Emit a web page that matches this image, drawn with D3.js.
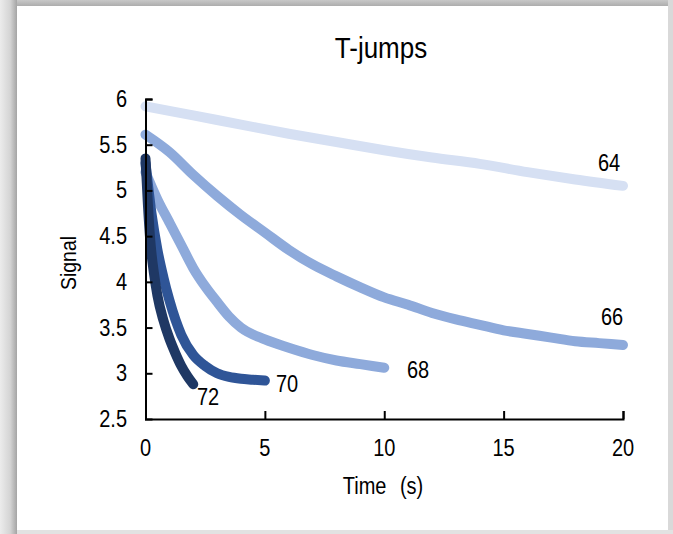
<!DOCTYPE html>
<html><head><meta charset="utf-8">
<script src="https://cdn.jsdelivr.net/npm/d3@7"></script>
<style>
html,body{margin:0;padding:0;background:#fff;}
svg{display:block;font-family:"Liberation Sans",Arial,sans-serif;}
</style></head>
<body><svg id="c" width="673" height="534"></svg>
<script>
const title = "T-jumps";
const xLabel = "Time (s)";
const yLabel = "Signal";
const xTicks = [0, 5, 10, 15, 20];
const yTicks = [2.5, 3, 3.5, 4, 4.5, 5, 5.5, 6];
const seriesNames = ["64", "66", "68", "70", "72"];
const seriesColors = ["#d6e0f3", "#8eaadb", "#8eaadb", "#2f5597", "#1f3864"];
const t64 = [0, 2, 4, 6, 8, 10, 12, 14, 16, 18, 20];
const v64 = [5.92, 5.82, 5.72, 5.62, 5.53, 5.44, 5.36, 5.29, 5.2, 5.12, 5.05];
const t66 = [0, 1, 2, 3, 4, 5, 6, 7, 8, 9, 10, 11, 12, 13, 14, 15, 16, 17, 18, 19, 20];
const v66 = [5.61, 5.42, 5.17, 4.94, 4.73, 4.54, 4.35, 4.19, 4.06, 3.94, 3.83, 3.75, 3.66, 3.59, 3.53, 3.47, 3.43, 3.39, 3.35, 3.33, 3.31];
const t68 = [0, 0.5, 1, 1.5, 2, 2.5, 3, 3.5, 4, 5, 6, 7, 8, 9, 10];
const v68 = [5.2, 4.9, 4.65, 4.4, 4.15, 3.95, 3.78, 3.62, 3.5, 3.37, 3.28, 3.2, 3.14, 3.1, 3.06];
const t70 = [0, 0.25, 0.5, 0.75, 1, 1.5, 2, 2.5, 3, 3.5, 4, 4.5, 5];
const v70 = [5.3, 4.75, 4.35, 4.05, 3.8, 3.42, 3.2, 3.08, 3.0, 2.96, 2.94, 2.93, 2.92];
const t72 = [0, 0.1, 0.2, 0.35, 0.5, 0.75, 1, 1.25, 1.5, 1.75, 2];
const v72 = [5.35, 4.85, 4.45, 4.1, 3.85, 3.58, 3.38, 3.22, 3.08, 2.97, 2.88];

const times = [t64, t66, t68, t70, t72];
const vals = [v64, v66, v68, v70, v72];
const labelPos = [[609, 163], [612, 317], [418, 370], [287, 384], [208, 397]];

const svg = d3.select("#c");
const SY = 1.15;
function label(g, px, py, txt, size, anchor) {
  return g.append("text")
    .attr("transform", `translate(${px},${py}) scale(1,${SY})`)
    .attr("dy", "0.35em").attr("text-anchor", anchor || "middle")
    .attr("font-size", size).attr("fill", "#000").text(txt);
}
// frame shadow
const defs = svg.append("defs");
const gl = defs.append("linearGradient").attr("id","gl").attr("x1","0").attr("x2","1").attr("y1","0").attr("y2","0");
gl.append("stop").attr("offset","0").attr("stop-color","#ececec");
gl.append("stop").attr("offset","0.6").attr("stop-color","#d4d4d4");
gl.append("stop").attr("offset","1").attr("stop-color","#a4a4a4");
const gt = defs.append("linearGradient").attr("id","gt").attr("x1","0").attr("x2","0").attr("y1","0").attr("y2","1");
gt.append("stop").attr("offset","0").attr("stop-color","#c8c8c8");
gt.append("stop").attr("offset","1").attr("stop-color","#a8a8a8");
svg.append("rect").attr("x",0).attr("y",0).attr("width",673).attr("height",534).attr("fill","#f0f0f0");
svg.append("rect").attr("x",0).attr("y",0).attr("width",673).attr("height",7).attr("fill","url(#gt)");
svg.append("rect").attr("x",0).attr("y",0).attr("width",17).attr("height",534).attr("fill","url(#gl)");
svg.append("rect").attr("x",668).attr("y",0).attr("width",5).attr("height",534).attr("fill","#d9d9d9");
svg.append("rect").attr("x",17).attr("y",530).attr("width",656).attr("height",4).attr("fill","#e2e2e2");
svg.append("rect").attr("x",17).attr("y",6).attr("width",651).attr("height",524).attr("fill","#fff");

const x = d3.scaleLinear().domain([0, 20]).range([145.5, 623]);
const y = d3.scaleLinear().domain([2.5, 6]).range([419, 99]);

// series
const line = d3.line().x(d => x(d[0])).y(d => y(d[1])).curve(d3.curveMonotoneX);
times.forEach((ts, i) => {
  const pts = ts.map((t, j) => [t, vals[i][j]]);
  svg.append("path").attr("d", line(pts)).attr("fill", "none")
    .attr("stroke", seriesColors[i]).attr("stroke-width", 10)
    .attr("stroke-linecap", "round").attr("stroke-linejoin", "round");
  label(svg, labelPos[i][0], labelPos[i][1], seriesNames[i], 20);
});

// axes
const xa = svg.append("g").attr("transform", "translate(0,419)")
  .call(d3.axisBottom(x).tickValues(xTicks).tickSize(-8).tickPadding(0).tickFormat(""));
const ya = svg.append("g").attr("transform", "translate(145.5,0)")
  .call(d3.axisLeft(y).tickValues(yTicks).tickSize(-7).tickFormat(""));
[xa, ya].forEach(a => {
  a.select(".domain").attr("stroke", "#000").attr("stroke-width", 2);
  a.selectAll(".tick line").attr("stroke", "#000").attr("stroke-width", 2);
});
ya.selectAll(".tick").filter(d => d === 2.5).select("line").remove();
xa.selectAll(".tick").filter(d => d === 0).select("line").remove();

xTicks.forEach(d => label(svg, x(d), 448, d, 20));
yTicks.forEach(d => label(svg, 127, y(d), d, 20, "end"));

label(svg, 381, 48, title, 26);
label(svg, 383, 486, xLabel, 20).attr("word-spacing", 8);
svg.append("text").attr("transform", `translate(68,263) scale(${SY},1) rotate(-90)`).attr("dy", "0.35em")
  .attr("text-anchor", "middle").attr("font-size", 19.5).text(yLabel);
</script></body></html>
